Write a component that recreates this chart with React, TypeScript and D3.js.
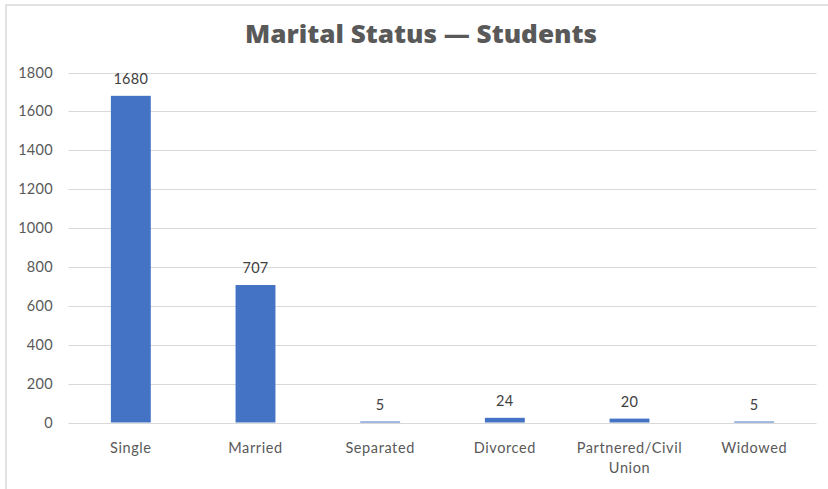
import React from "react";
import * as d3 from "d3";

const categories = ["Single", "Married", "Separated", "Divorced", "Partnered/Civil Union", "Widowed"];
const categoryLines = [["Single"], ["Married"], ["Separated"], ["Divorced"], ["Partnered/Civil", "Union"], ["Widowed"]];
const values = [1680, 707, 5, 24, 20, 5];
const yTicks = [0, 200, 400, 600, 800, 1000, 1200, 1400, 1600, 1800];
const title = "Marital Status \u2014 Students";

export default function App() {
  const W = 828, H = 489;
  const x = d3.scaleBand<string>().domain(categories).range([68.5, 816.5]).paddingInner(0.68).paddingOuter(0.34);
  const y = d3.scaleLinear().domain([0, 1800]).range([422.5, 72.5]);
  const font = "Lato, 'Open Sans', sans-serif";
  return (
    <svg width={W} height={H} style={{ position: "absolute", left: 0, top: 0, background: "#fff" }}>
      <rect x={6} y={5} width={900} height={900} fill="#fff" stroke="#d9d9d9" strokeWidth={1.5} />
      <text x={421} y={43} textAnchor="middle" fontFamily="'Open Sans', sans-serif" fontWeight={800} fontSize={25} fill="#595959" textLength={352} lengthAdjust="spacingAndGlyphs">{title}</text>
      {yTicks.map((t) => (
        <g key={t}>
          <line x1={68.5} x2={816.5} y1={Math.round(y(t)) + 0.5} y2={Math.round(y(t)) + 0.5} stroke="#d9d9d9" strokeWidth={1} />
          <text x={53} y={y(t) + 5} textAnchor="end" fontFamily={font} fontSize={14.5} letterSpacing={0.3} fill="#595959">{t}</text>
        </g>
      ))}
      {categories.map((c, i) => {
        const bx = x(c)!;
        const bw = x.bandwidth();
        const top = y(values[i]);
        return (
          <g key={c}>
            <rect x={bx} y={top} width={bw} height={y(0) - top} fill="#4472C4" />
            <text x={bx + bw / 2} y={top - 12} textAnchor="middle" fontFamily={font} fontSize={14.5} letterSpacing={0.3} fill="#404040">{values[i]}</text>
            {categoryLines[i].map((ln, j) => (
              <text key={j} x={bx + bw / 2} y={453 + j * 20} textAnchor="middle" fontFamily={font} fontSize={14.5} letterSpacing={0.6} fill="#595959">{ln}</text>
            ))}
          </g>
        );
      })}
    </svg>
  );
}
